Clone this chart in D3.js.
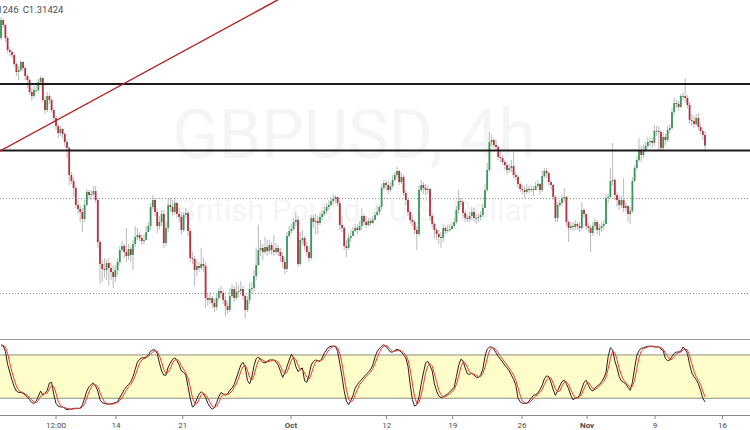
<!DOCTYPE html>
<html><head><meta charset="utf-8">
<script src="https://cdn.jsdelivr.net/npm/d3@7"></script>
<style>html,body{margin:0;padding:0;background:#fff;overflow:hidden}svg{display:block;font-family:Roboto,"Noto Sans",sans-serif}</style>
</head><body><svg id="c" width="750" height="430"></svg>
<script>
// ---------------- DATA ----------------
const title = "GBPUSD, 4h";
const subtitle = "British Pound / U.S. Dollar";
const lowLabel = "L1.31246";
const closeLabel = "C1.31424";
const firstOpen = 1.3465;
const closes = [
1.3519,1.3504,1.3465,1.3429,1.3423,1.3414,1.3387,1.3363,1.3369,1.3393,
1.3375,1.3351,1.3339,1.3303,1.3291,1.3309,1.3309,1.3333,1.3345,1.3279,
1.3249,1.3291,1.3279,1.3249,1.3225,1.3201,1.3180,1.3192,1.3177,1.3153,
1.3135,1.3054,1.3036,1.3015,1.2964,1.2952,1.2943,1.2922,1.2964,1.3003,
1.2994,1.2997,1.3006,1.2979,1.2853,1.2787,1.2772,1.2769,1.2790,1.2775,
1.2763,1.2748,1.2769,1.2793,1.2829,1.2841,1.2823,1.2811,1.2832,1.2814,
1.2847,1.2868,1.2874,1.2865,1.2856,1.2859,1.2883,1.2901,1.2958,1.2979,
1.2943,1.2901,1.2913,1.2937,1.2850,1.2895,1.2964,1.2958,1.2943,1.2970,
1.2937,1.2928,1.2889,1.2934,1.2940,1.2886,1.2805,1.2802,1.2769,1.2781,
1.2775,1.2787,1.2781,1.2685,1.2679,1.2685,1.2670,1.2658,1.2685,1.2706,
1.2700,1.2679,1.2661,1.2649,1.2691,1.2712,1.2685,1.2703,1.2706,1.2712,
1.2691,1.2649,1.2679,1.2712,1.2715,1.2751,1.2784,1.2829,1.2835,1.2823,
1.2838,1.2826,1.2844,1.2829,1.2823,1.2835,1.2823,1.2811,1.2793,1.2772,
1.2871,1.2886,1.2892,1.2913,1.2919,1.2787,1.2859,1.2865,1.2841,1.2823,
1.2805,1.2925,1.2913,1.2916,1.2910,1.2928,1.2937,1.2946,1.2958,1.2964,
1.2976,1.2982,1.2988,1.2970,1.2904,1.2895,1.2841,1.2835,1.2865,1.2871,
1.2886,1.2895,1.2889,1.2901,1.2931,1.2913,1.2904,1.2916,1.2910,1.2919,
1.2934,1.2943,1.2958,1.3015,1.3030,1.3024,1.3009,1.3021,1.3039,1.3054,
1.3066,1.3033,1.3048,1.3000,1.2979,1.2943,1.2919,1.2913,1.2889,1.2877,
1.3009,1.3024,1.3015,1.3009,1.3012,1.2931,1.2907,1.2889,1.2877,1.2868,
1.2865,1.2895,1.2886,1.2889,1.2892,1.2901,1.2913,1.2949,1.2976,1.2973,
1.2940,1.2925,1.2922,1.2931,1.2943,1.2925,1.2925,1.2928,1.2934,1.2955,
1.3009,1.3069,1.3153,1.3159,1.3144,1.3138,1.3108,1.3105,1.3093,1.3084,
1.3069,1.3075,1.3081,1.3054,1.3048,1.3027,1.3012,1.3009,1.3003,1.3012,
1.3009,1.3012,1.3009,1.3021,1.3027,1.3009,1.3051,1.3066,1.3060,1.3033,
1.3024,1.2988,1.2925,1.2964,1.2970,1.2985,1.2988,1.2913,1.2895,1.2901,
1.2898,1.2907,1.2901,1.2895,1.2949,1.2937,1.2901,1.2895,1.2880,1.2901,
1.2913,1.2889,1.2895,1.2901,1.2907,1.2985,1.2988,1.3036,1.3039,1.2994,
1.2979,1.2964,1.2979,1.2955,1.2961,1.2937,1.2946,1.3036,1.3075,1.3099,
1.3129,1.3114,1.3129,1.3141,1.3153,1.3156,1.3150,1.3186,1.3186,1.3183,
1.3135,1.3168,1.3159,1.3189,1.3195,1.3243,1.3270,1.3267,1.3258,1.3291,
1.3291,1.3285,1.3264,1.3219,1.3216,1.3207,1.3225,1.3198,1.3186,1.3174,
1.31424];
const highs = [
1.3528,1.3522,1.3507,1.3471,1.3438,1.3429,1.3423,1.3393,1.3381,1.3399,
1.3396,1.3381,1.3357,1.3345,1.3315,1.3321,1.3327,1.3342,1.3351,1.3348,
1.3291,1.3303,1.3297,1.3285,1.3255,1.3231,1.3207,1.3201,1.3195,1.3183,
1.3162,1.3141,1.3063,1.3045,1.3021,1.2979,1.2964,1.2955,1.2979,1.3012,
1.3009,1.3009,1.3021,1.3021,1.2985,1.2859,1.2799,1.2805,1.2802,1.2805,
1.2793,1.2781,1.2784,1.2805,1.2841,1.2856,1.2847,1.2895,1.2847,1.2841,
1.2859,1.2901,1.2895,1.2883,1.2874,1.2877,1.2901,1.2913,1.2970,1.2994,
1.2985,1.2955,1.2931,1.2949,1.2949,1.2913,1.2985,1.2985,1.2979,1.2988,
1.2973,1.2955,1.2943,1.2943,1.2955,1.2946,1.2895,1.2823,1.2811,1.2799,
1.2793,1.2835,1.2805,1.2793,1.2697,1.2703,1.2691,1.2682,1.2697,1.2715,
1.2721,1.2709,1.2691,1.2673,1.2715,1.2727,1.2721,1.2733,1.2724,1.2736,
1.2721,1.2697,1.2691,1.2730,1.2733,1.2769,1.2835,1.2904,1.2859,1.2847,
1.2868,1.2859,1.2859,1.2853,1.2874,1.2850,1.2844,1.2835,1.2823,1.2805,
1.2883,1.2901,1.2907,1.2925,1.2943,1.2931,1.2883,1.2889,1.2871,1.2853,
1.2841,1.2934,1.2934,1.2937,1.2931,1.2943,1.2949,1.2961,1.2970,1.2979,
1.2988,1.2997,1.2994,1.2988,1.2979,1.2934,1.2901,1.2859,1.2877,1.2889,
1.2898,1.2907,1.2907,1.2916,1.2955,1.2937,1.2931,1.2925,1.2925,1.2931,
1.2943,1.2961,1.2964,1.3027,1.3039,1.3039,1.3036,1.3033,1.3054,1.3063,
1.3078,1.3069,1.3060,1.3054,1.3009,1.2985,1.2949,1.2934,1.2919,1.2901,
1.3021,1.3039,1.3033,1.3027,1.3024,1.3015,1.2937,1.2913,1.2895,1.2889,
1.2883,1.2907,1.2901,1.2904,1.2907,1.2913,1.2925,1.2961,1.3009,1.2985,
1.2979,1.2949,1.2934,1.2943,1.2958,1.2955,1.2937,1.2940,1.2946,1.2967,
1.3027,1.3090,1.3183,1.3174,1.3165,1.3159,1.3144,1.3129,1.3114,1.3099,
1.3093,1.3087,1.3099,1.3129,1.3063,1.3054,1.3033,1.3024,1.3021,1.3027,
1.3021,1.3024,1.3021,1.3033,1.3039,1.3030,1.3069,1.3075,1.3075,1.3063,
1.3039,1.3027,1.2994,1.2973,1.2979,1.2994,1.3015,1.2991,1.2919,1.2913,
1.2913,1.2919,1.2913,1.2913,1.2973,1.2955,1.2937,1.2910,1.2904,1.2913,
1.2925,1.2919,1.2907,1.2913,1.2919,1.2997,1.2997,1.3075,1.3150,1.3045,
1.3003,1.2991,1.2991,1.3045,1.2973,1.2964,1.2958,1.3048,1.3084,1.3111,
1.3165,1.3141,1.3144,1.3153,1.3168,1.3165,1.3165,1.3204,1.3201,1.3201,
1.3189,1.3183,1.3177,1.3201,1.3207,1.3255,1.3285,1.3279,1.3276,1.3297,
1.3303,1.3345,1.3294,1.3273,1.3237,1.3231,1.3237,1.3240,1.3207,1.3195,
1.3186];
const lows = [
1.3459,1.3495,1.3453,1.3420,1.3411,1.3405,1.3378,1.3351,1.3339,1.3363,
1.3366,1.3339,1.3315,1.3294,1.3276,1.3285,1.3300,1.3303,1.3327,1.3273,
1.3237,1.3243,1.3267,1.3240,1.3213,1.3189,1.3165,1.3171,1.3162,1.3138,
1.3105,1.3024,1.3027,1.2988,1.2955,1.2937,1.2913,1.2883,1.2913,1.2961,
1.2982,1.2979,1.2991,1.2970,1.2835,1.2727,1.2733,1.2745,1.2739,1.2721,
1.2739,1.2715,1.2733,1.2754,1.2784,1.2823,1.2805,1.2793,1.2799,1.2793,
1.2769,1.2838,1.2859,1.2856,1.2844,1.2847,1.2871,1.2883,1.2889,1.2949,
1.2931,1.2880,1.2889,1.2901,1.2835,1.2841,1.2883,1.2943,1.2931,1.2934,
1.2925,1.2913,1.2877,1.2883,1.2925,1.2871,1.2793,1.2787,1.2721,1.2751,
1.2763,1.2769,1.2763,1.2655,1.2661,1.2667,1.2655,1.2643,1.2649,1.2679,
1.2685,1.2667,1.2631,1.2637,1.2643,1.2685,1.2673,1.2679,1.2688,1.2694,
1.2679,1.2625,1.2643,1.2667,1.2697,1.2703,1.2739,1.2781,1.2811,1.2799,
1.2817,1.2811,1.2817,1.2814,1.2811,1.2817,1.2811,1.2793,1.2775,1.2757,
1.2763,1.2865,1.2877,1.2886,1.2901,1.2778,1.2781,1.2847,1.2829,1.2811,
1.2793,1.2799,1.2895,1.2877,1.2877,1.2904,1.2919,1.2931,1.2937,1.2949,
1.2961,1.2967,1.2970,1.2961,1.2889,1.2883,1.2829,1.2808,1.2829,1.2853,
1.2871,1.2883,1.2877,1.2886,1.2889,1.2901,1.2895,1.2901,1.2901,1.2907,
1.2919,1.2931,1.2934,1.2949,1.3009,1.3009,1.2997,1.3003,1.3015,1.3036,
1.3045,1.3024,1.3027,1.2991,1.2964,1.2931,1.2907,1.2901,1.2877,1.2829,
1.2871,1.3003,1.2997,1.2994,1.2997,1.2919,1.2895,1.2865,1.2859,1.2847,
1.2835,1.2853,1.2877,1.2880,1.2883,1.2889,1.2895,1.2907,1.2937,1.2961,
1.2925,1.2913,1.2913,1.2913,1.2919,1.2913,1.2907,1.2913,1.2919,1.2928,
1.2955,1.3003,1.3063,1.3141,1.3135,1.3129,1.3099,1.3093,1.3084,1.3069,
1.3054,1.3060,1.3063,1.3045,1.3036,1.3015,1.3003,1.2997,1.2985,1.2997,
1.3000,1.3003,1.2991,1.3009,1.3015,1.2997,1.3003,1.3045,1.3045,1.3021,
1.3009,1.2979,1.2913,1.2913,1.2958,1.2961,1.2973,1.2901,1.2853,1.2889,
1.2886,1.2889,1.2889,1.2883,1.2889,1.2925,1.2889,1.2883,1.2823,1.2871,
1.2889,1.2877,1.2871,1.2883,1.2889,1.2907,1.2970,1.2985,1.3021,1.2979,
1.2958,1.2949,1.2955,1.2943,1.2943,1.2913,1.2907,1.2940,1.3033,1.3069,
1.3093,1.3093,1.3105,1.3123,1.3135,1.3141,1.3135,1.3141,1.3171,1.3129,
1.3126,1.3129,1.3144,1.3153,1.3180,1.3189,1.3234,1.3255,1.3249,1.3255,
1.3279,1.3273,1.3255,1.3207,1.3201,1.3195,1.3201,1.3189,1.3177,1.3159,
1.31246];
const stochK = [
94,93,85,67,56,45,36,30,28,28, 27,24,22,18,14,13,16,23,30,24,
27,31,41,42,25,13,9,8,8,6, 4,5,5,6,6,6,6,11,20,30,
36,39,41,37,30,18,14,13,12,12, 12,13,14,15,21,26,32,36,39,43,
50,60,70,74,76,76,77,80,85,87, 87,82,69,58,52,52,63,69,74,76,
72,66,58,56,52,36,20,8,10,19, 26,29,26,21,13,8,5,7,14,22,
28,26,24,26,31,34,39,48,57,66, 70,63,45,40,49,65,75,77,73,70,
69,71,73,73,73,70,66,58,49,55, 64,73,81,76,64,57,60,62,44,42,
52,66,71,73,72,71,76,83,87,91, 92,92,92,85,68,50,30,16,11,17,
24,34,39,43,46,50,53,56,60,66, 77,85,89,92,94,92,88,84,84,86,
88,86,84,80,76,64,39,18,9,11, 22,40,55,69,71,65,58,40,30,23,
21,22,24,26,29,32,35,50,65,74, 72,62,54,53,55,52,49,49,52,60,
78,88,91,91,88,83,78,74,70,66, 62,58,52,46,38,20,15,13,13,13,
16,20,24,25,27,32,38,47,51,50, 42,32,24,30,37,43,45,40,33,24,
18,20,21,24,33,42,45,38,32,30, 34,37,39,43,48,56,78,90,87,72,
62,50,44,42,40,35,31,42,62,79, 86,89,90,91,92,92,92,91,91,91,
88,86,75,72,73,78,82,84,84,85, 91,88,82,67,55,50,46,40,31,20,
15];
const stochD = [
92,93,91,82,69,56,46,37,31,29, 28,26,24,21,18,15,14,17,23,26,
27,27,33,38,36,27,16,10,8,7, 6,5,5,5,6,6,6,8,12,20,
29,35,39,39,36,28,21,15,13,12, 12,12,13,14,17,21,26,31,36,39,
44,51,60,68,73,75,76,78,81,84, 86,85,79,70,60,54,56,61,69,73,
74,71,65,60,55,48,36,21,13,12, 18,25,27,25,20,14,9,7,9,14,
21,25,26,25,27,30,35,40,48,57, 64,66,59,49,45,51,63,72,75,73,
71,70,71,72,73,72,70,65,58,54, 56,64,73,77,74,66,60,60,55,49,
46,53,63,70,72,72,73,77,82,87, 90,92,92,90,82,68,49,32,19,15,
17,25,32,39,43,46,50,53,56,61, 68,76,84,89,92,93,91,88,85,85,
86,87,86,83,80,73,60,40,22,13, 14,24,39,55,65,68,65,54,43,31,
25,22,22,24,26,29,32,39,50,63, 70,69,63,56,54,53,52,50,50,54,
63,75,86,90,90,87,83,78,74,70, 66,62,57,52,45,35,24,16,14,13,
14,16,20,23,25,28,32,39,45,49, 48,41,33,29,30,37,42,43,39,32,
25,21,20,22,26,33,40,42,38,33, 32,34,37,40,43,49,61,75,85,83,
74,61,52,45,42,39,35,36,45,61, 76,85,88,90,91,92,92,92,91,91,
90,88,83,78,73,74,78,81,83,84, 87,88,87,79,68,57,50,45,39,30,
22];
const timeTicks = [
  {label:"Sep", bar:-4, bold:true},
  {label:"12:00", bar:25, bold:false},
  {label:"14", bar:52.3, bold:false},
  {label:"21", bar:82.6, bold:false},
  {label:"Oct", bar:131.8, bold:true},
  {label:"12", bar:175.3, bold:false},
  {label:"19", bar:205.3, bold:false},
  {label:"26", bar:236.8, bold:false},
  {label:"Nov", bar:266.4, bold:true},
  {label:"9", bar:297.3, bold:false},
  {label:"16", bar:328, bold:false}
];
const solidLevels = [1.3327, 1.31275];
const dottedLevels = [1.2985, 1.2700];
const trendPoints = [{bar:-1, price:1.3124}, {bar:126, price:1.3580}];
const bandLevels = [80, 20];

// ---------------- CHART ----------------
const svg = d3.select("#c");
const W = 750;
const paneBottom = 338;
const x = d3.scaleLinear().domain([0, 320]).range([1, 705]);
const y = d3.scaleLinear().domain([1.3579, 1.2565]).range([0, paneBottom]);
const ys = d3.scaleLinear().domain([0, 100]).range([412.7, 340.5]);

svg.append("rect").attr("width", W).attr("height", 430).attr("fill", "#fff");
svg.append("clipPath").attr("id", "mainClip").append("rect")
  .attr("x", 0).attr("y", 0).attr("width", W).attr("height", paneBottom);
const main = svg.append("g").attr("clip-path", "url(#mainClip)");

// watermark
main.append("text").attr("x", 354).attr("y", 158).attr("text-anchor", "middle")
  .attr("font-size", 68).attr("fill", "#f5f5f5").text(title);
main.append("text").attr("x", 354).attr("y", 221).attr("text-anchor", "middle")
  .attr("font-size", 31).attr("fill", "#f5f5f5").text(subtitle);

// dotted levels
main.selectAll("line.dot").data(dottedLevels).join("line")
  .attr("x1", 0).attr("x2", W)
  .attr("y1", d => Math.round(y(d)) + 0.5).attr("y2", d => Math.round(y(d)) + 0.5)
  .attr("stroke", "#8c8c8c").attr("stroke-width", 1).attr("stroke-dasharray", "1,2");

// candles
const bars = closes.map((c, i) => {
  const o = i === 0 ? firstOpen : closes[i - 1];
  return {i, o, c, h: Math.max(highs[i], o, c), l: Math.min(lows[i], o, c)};
});
const cg = main.append("g");
cg.selectAll("line.wick").data(bars).join("line")
  .attr("x1", d => x(d.i)).attr("x2", d => x(d.i))
  .attr("y1", d => y(d.h)).attr("y2", d => y(d.l))
  .attr("stroke", "#a8a8a8").attr("stroke-width", 0.8);
cg.selectAll("rect.body").data(bars).join("rect")
  .attr("x", d => x(d.i) - 0.9).attr("width", 1.8)
  .attr("y", d => y(Math.max(d.o, d.c)))
  .attr("height", d => Math.max(0.8, Math.abs(y(d.o) - y(d.c))))
  .attr("fill", d => d.c >= d.o ? "#38985b" : "#b3303d");

// solid levels
main.selectAll("line.lvl").data(solidLevels).join("line")
  .attr("x1", 0).attr("x2", W)
  .attr("y1", d => y(d)).attr("y2", d => y(d))
  .attr("stroke", "#1c1c1c").attr("stroke-width", 1.8);

// trend line
main.append("line")
  .attr("x1", x(trendPoints[0].bar)).attr("y1", y(trendPoints[0].price))
  .attr("x2", x(trendPoints[1].bar)).attr("y2", y(trendPoints[1].price))
  .attr("stroke", "#b22224").attr("stroke-width", 1.5);

// header OHLC text
svg.append("text").attr("x", 18.5).attr("y", 12.7).attr("text-anchor", "end")
  .attr("font-size", 9.5).attr("fill", "#4d4d4d").text(lowLabel);
svg.append("text").attr("x", 22.7).attr("y", 12.7)
  .attr("font-size", 9.5).attr("fill", "#4d4d4d").text(closeLabel);

// stochastic pane
svg.append("line").attr("x1", 0).attr("x2", W).attr("y1", 339.5).attr("y2", 339.5)
  .attr("stroke", "#9a9a9a").attr("stroke-width", 1);
svg.append("rect").attr("x", 0).attr("width", W)
  .attr("y", ys(bandLevels[0])).attr("height", ys(bandLevels[1]) - ys(bandLevels[0]))
  .attr("fill", "#fffdca");
svg.selectAll("line.band").data(bandLevels).join("line")
  .attr("x1", 0).attr("x2", W)
  .attr("y1", d => ys(d)).attr("y2", d => ys(d))
  .attr("stroke", "#8e8e7c").attr("stroke-width", 1);
svg.append("line").attr("x1", 0).attr("x2", W).attr("y1", 415.5).attr("y2", 415.5)
  .attr("stroke", "#8a8a8a").attr("stroke-width", 1);

const kLine = d3.line().x((d, i) => x(i)).y(d => ys(d));
svg.append("path").attr("d", kLine(stochK)).attr("fill", "none")
  .attr("stroke", "#222").attr("stroke-width", 1);
svg.append("path").attr("d", kLine(stochD)).attr("fill", "none")
  .attr("stroke", "#f23a2c").attr("stroke-width", 1);

// time axis
const ax = svg.append("g");
ax.selectAll("line.tk").data(timeTicks).join("line")
  .attr("x1", d => x(d.bar)).attr("x2", d => x(d.bar))
  .attr("y1", 416).attr("y2", 419)
  .attr("stroke", "#8a8a8a").attr("stroke-width", 1);
ax.selectAll("text.tl").data(timeTicks).join("text")
  .attr("x", d => x(d.bar)).attr("y", 427.5).attr("text-anchor", "middle")
  .attr("font-size", 8).attr("font-weight", d => d.bold ? "bold" : "normal")
  .attr("fill", "#4a4a4a").text(d => d.label);
</script></body></html>
